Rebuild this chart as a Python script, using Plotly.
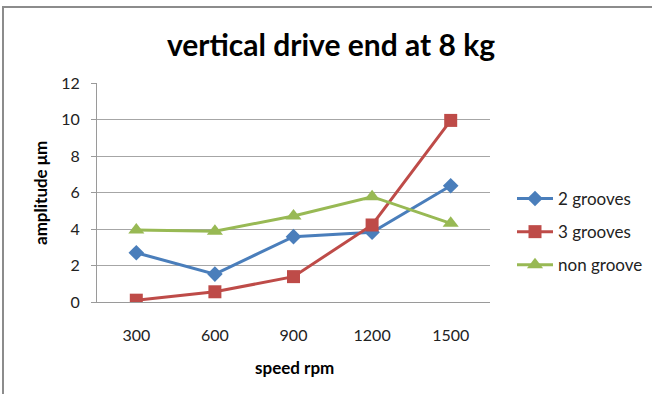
import plotly.graph_objects as go

categories = ["300", "600", "900", "1200", "1500"]
two_grooves = [2.70, 1.53, 3.58, 3.82, 6.37]
three_grooves = [0.10, 0.56, 1.39, 4.22, 9.95]
non_groove = [3.95, 3.88, 4.71, 5.77, 4.31]
y_ticks = [0, 2, 4, 6, 8, 10, 12]

FONT = "Lato, Calibri, Carlito, sans-serif"

fig = go.Figure()
series = [
    ("2 grooves", two_grooves, "#4A7EBB", "diamond", 12),
    ("3 grooves", three_grooves, "#BE4B48", "square", 13),
    ("non groove", non_groove, "#98B954", "triangle-up", 14),
]
for name, vals, col, sym, sz in series:
    fig.add_trace(go.Scatter(
        x=categories, y=vals, name=name, mode="lines+markers",
        line=dict(color=col, width=3),
        marker=dict(symbol=sym, size=sz, color=col),
        legendgroup=name,
    ))

W, H = 652, 394
L, R, T, B = 97, 490, 83, 302

fig.update_layout(
    width=W, height=H,
    margin=dict(l=L, r=W - R, t=T, b=H - B, autoexpand=False),
    paper_bgcolor="white", plot_bgcolor="white",
    font=dict(family=FONT, size=16, color="#222"),
    title=dict(text="<b>vertical drive end at 8 kg</b>", x=(331) / W, xanchor="center",
               y=1 - 45 / H, yanchor="middle", yref="container",
               font=dict(size=30, family=FONT, color="#000")),
    showlegend=True,
    legend=dict(x=(512 - L) / (R - L), xanchor="left", y=(B - 181) / (B - T), yanchor="top",
                traceorder="grouped", tracegroupgap=8, itemwidth=36,
                font=dict(size=17, family=FONT, color="#222"), bgcolor="rgba(0,0,0,0)"),
    xaxis=dict(type="category", range=[-0.5, 4.5], showgrid=False, showline=True,
               linecolor="#9a9a9a", linewidth=1, ticks="", ticklabelstandoff=19,
               tickfont=dict(size=16, family=FONT, color="#222"), zeroline=False),
    yaxis=dict(range=[0, 12], tickvals=y_ticks, showgrid=True, gridcolor="#a6a6a6", gridwidth=1,
               showline=True, linecolor="#9a9a9a", linewidth=1, ticks="outside", ticklen=5,
               tickcolor="#9a9a9a", ticklabelstandoff=8, zeroline=False,
               tickfont=dict(size=16, family=FONT, color="#222")),
    annotations=[
        dict(text="<b>speed rpm</b>", xref="paper", yref="paper",
             x=(294 - L) / (R - L), y=(B - 367) / (B - T), xanchor="center", yanchor="middle",
             showarrow=False, font=dict(size=17, family=FONT, color="#000")),
        dict(text="<b>amplitude μm</b>", xref="paper", yref="paper", textangle=-90,
             x=(40 - L) / (R - L), y=(B - 193) / (B - T), xanchor="center", yanchor="middle",
             showarrow=False, font=dict(size=17, family=FONT, color="#000")),
    ],
    shapes=[
        dict(type="rect", xref="paper", yref="paper",
             x0=(3 - L) / (R - L), x1=(700 - L) / (R - L),
             y0=(B - 420) / (B - T), y1=(B - 7) / (B - T),
             line=dict(color="#8c8c8c", width=2), fillcolor="rgba(0,0,0,0)", layer="below"),
    ],
)

fig.write_html("out.html")
